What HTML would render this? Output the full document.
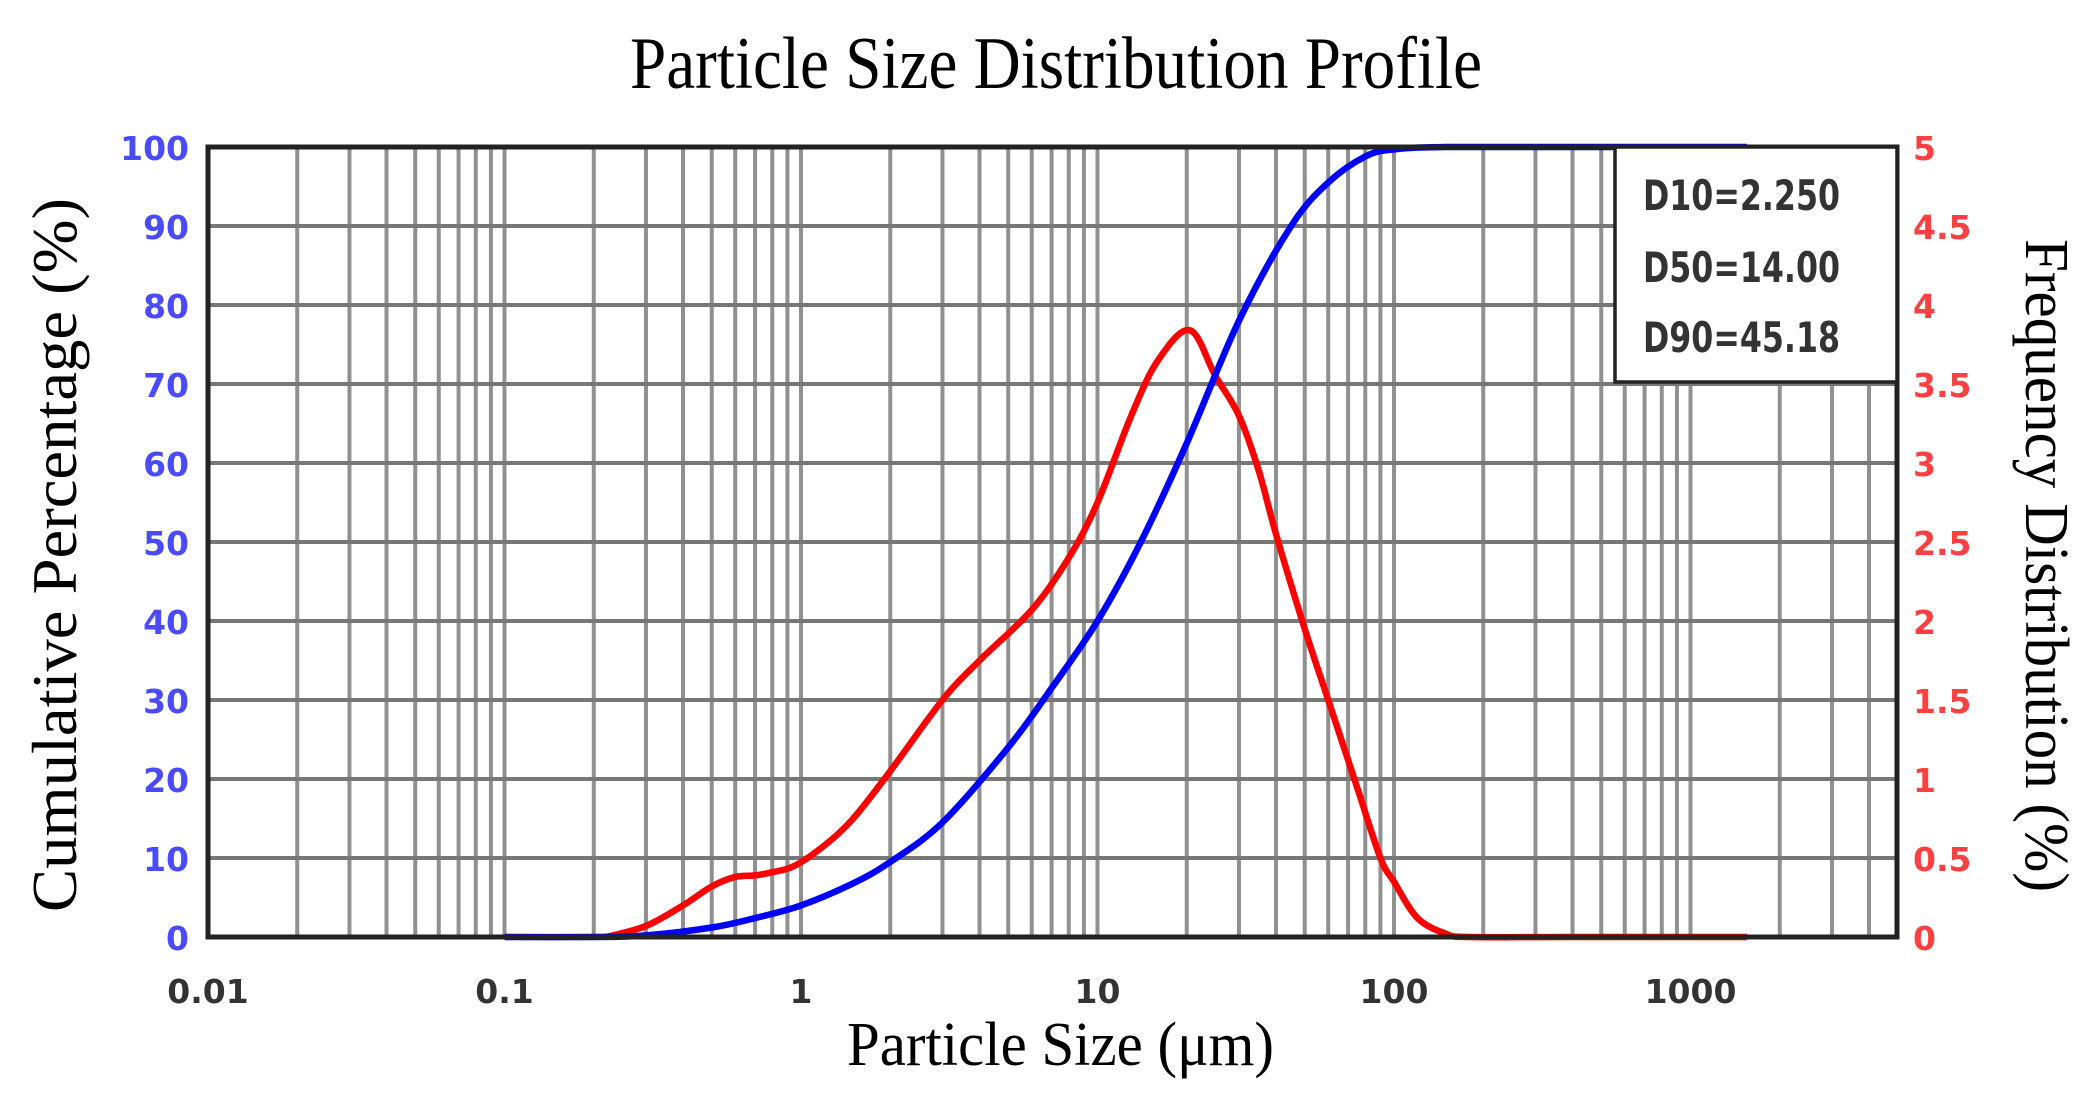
<!DOCTYPE html>
<html><head><meta charset="utf-8">
<style>
html,body{margin:0;padding:0;background:#fff;}
svg{display:block;}
.tk{font-family:"DejaVu Sans","Liberation Sans",sans-serif;font-size:33px;font-weight:bold;}
.tm{font-family:"Liberation Serif",serif;fill:#000;}
</style></head>
<body>
<svg id="s" width="2092" height="1105" viewBox="0 0 2092 1105" xmlns="http://www.w3.org/2000/svg">
<rect width="2092" height="1105" fill="#fff"/>
<g id="grid"></g>
<path id="red" fill="none" stroke="#ff0000" stroke-width="6.5" stroke-linejoin="round"/>
<path id="blue" fill="none" stroke="#0000ff" stroke-width="6.5" stroke-linejoin="round"/>
<rect x="208" y="147" width="1689" height="790" fill="none" stroke="#222" stroke-width="5"/>
<rect x="1615" y="147" width="282" height="235" fill="#fff" stroke="#222" stroke-width="3.5"/>
<g fill="#333" style="font-family:'DejaVu Sans','Liberation Sans',sans-serif;font-size:42px;font-weight:bold">
<text x="1643" y="210" textLength="197" lengthAdjust="spacingAndGlyphs">D10=2.250</text>
<text x="1643" y="282" textLength="197" lengthAdjust="spacingAndGlyphs">D50=14.00</text>
<text x="1643" y="352" textLength="197" lengthAdjust="spacingAndGlyphs">D90=45.18</text>
</g>
<g id="labels"></g>
<text class="tm" x="630" y="88" font-size="74" textLength="852" lengthAdjust="spacingAndGlyphs">Particle Size Distribution Profile</text>
<text class="tm" x="847" y="1065" font-size="62" textLength="427" lengthAdjust="spacingAndGlyphs">Particle Size (μm)</text>
<text class="tm" font-size="64" transform="translate(76,912) rotate(-90)" textLength="714" lengthAdjust="spacingAndGlyphs">Cumulative Percentage (%)</text>
<text class="tm" font-size="62" transform="translate(2026,239) rotate(90)" textLength="653" lengthAdjust="spacingAndGlyphs">Frequency Distribution (%)</text>
</svg>
<script>
function X(v){return 208+(Math.log10(v)+2)*296.5;}
function Yc(p){return 937-p*7.9;}
function Yf(f){return 937-f*158;}
var g=document.getElementById('grid'),h='';
for(var d=-2;d<=3;d++){for(var m=1;m<=9;m++){var v=m*Math.pow(10,d);var x=X(v);if(x>1897)break;h+='<line x1="'+x+'" y1="147" x2="'+x+'" y2="937" stroke="#909090" stroke-width="4"/>';}}
for(var p=10;p<100;p+=10){h+='<line x1="208" y1="'+Yc(p)+'" x2="1897" y2="'+Yc(p)+'" stroke="#777" stroke-width="4"/>';}
g.innerHTML=h;
var L='';
for(var p=0;p<=100;p+=10){L+='<text class="tk" x="189" y="'+(Yc(p)+13)+'" text-anchor="end" fill="#4a4aff">'+p+'</text>';}
var fl=['0','0.5','1','1.5','2','2.5','3','3.5','4','4.5','5'];
for(var i=0;i<=10;i++){L+='<text class="tk" x="1913" y="'+(Yf(i*0.5)+13)+'" fill="#ff4040">'+fl[i]+'</text>';}
var xl=[[0.01,'0.01'],[0.1,'0.1'],[1,'1'],[10,'10'],[100,'100'],[1000,'1000']];
xl.forEach(function(a){L+='<text class="tk" x="'+X(a[0])+'" y="1003" text-anchor="middle" fill="#333">'+a[1]+'</text>';});
document.getElementById('labels').innerHTML=L;
function path(pts,yf){
 var P=pts.map(function(a){return [X(a[0]),yf(a[1])];});
 var d='M'+P[0][0]+','+P[0][1];
 for(var i=0;i<P.length-1;i++){
  var p0=P[Math.max(i-1,0)],p1=P[i],p2=P[i+1],p3=P[Math.min(i+2,P.length-1)];
  var c1=[p1[0]+(p2[0]-p0[0])/6,p1[1]+(p2[1]-p0[1])/6],c2=[p2[0]-(p3[0]-p1[0])/6,p2[1]-(p3[1]-p1[1])/6];
  d+=' C'+c1[0]+','+c1[1]+' '+c2[0]+','+c2[1]+' '+p2[0]+','+p2[1];
 }
 return d;
}
var blue=[[0.1,0],[0.2,0],[0.3,0.2],[0.5,1.2],[0.7,2.4],[1,4],[1.5,6.8],[2,9.5],[3,14.5],[5,24],[7,31.5],[10,40],[14,50],[20,62.5],[30,78],[45,90],[60,95.5],[80,98.8],[100,99.7],[150,100],[400,100],[1550,100]];
var red=[[0.22,0],[0.3,0.07],[0.4,0.2],[0.5,0.32],[0.6,0.38],[0.7,0.39],[0.8,0.41],[0.95,0.45],[1.2,0.58],[1.5,0.75],[2,1.05],[3,1.5],[4,1.75],[6,2.07],[8,2.4],[10,2.75],[13,3.3],[16,3.65],[20.5,3.84],[25,3.55],[30,3.3],[35,2.95],[40,2.55],[50,1.95],[60,1.5],[75,0.95],[90,0.5],[100,0.35],[120,0.12],[150,0.02],[180,0],[400,0],[1550,0]];
document.getElementById('blue').setAttribute('d',path(blue,Yc));
document.getElementById('red').setAttribute('d',path(red,Yf));
</script>
</body></html>
